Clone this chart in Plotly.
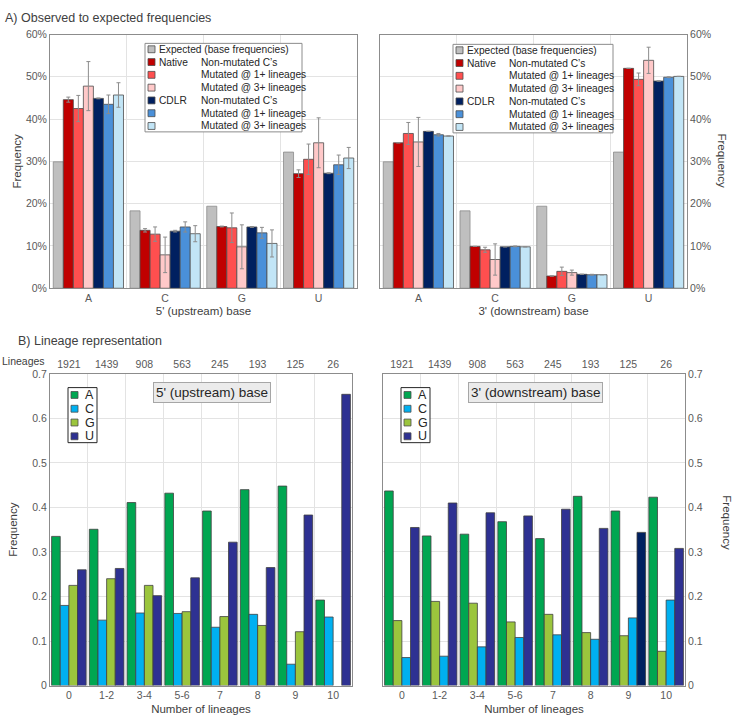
import plotly.graph_objects as go

# ---------------- DATA ----------------
bases = ["A", "C", "G", "U"]
expected = [29.9, 18.3, 19.4, 32.2]

# Panel A, 5' (upstream) base  (percent)
up_native_non = [44.6, 13.7, 14.6, 27.1]
up_native_non_err = [0.6, 0.4, 0.1, 0.9]
up_native_m1 = [42.5, 12.8, 14.3, 30.5]
up_native_m1_err = [3.1, 1.7, 3.5, 3.6]
up_native_m3 = [47.8, 7.9, 9.8, 34.4]
up_native_m3_err = [5.8, 4.2, 5.2, 5.9]
up_cdlr_non = [44.9, 13.5, 14.5, 27.2]
up_cdlr_non_err = [0.1, 0.2, 0.1, 0.1]
up_cdlr_m1 = [43.5, 14.5, 13.1, 29.2]
up_cdlr_m1_err = [2.2, 1.2, 1.3, 2.3]
up_cdlr_m3 = [45.7, 12.9, 10.6, 30.8]
up_cdlr_m3_err = [2.9, 1.9, 3.2, 2.5]

# Panel A, 3' (downstream) base  (percent)
dn_native_non = [34.4, 9.9, 2.9, 52.0]
dn_native_non_err = [None, None, None, None]
dn_native_m1 = [36.6, 9.1, 4.0, 49.4]
dn_native_m1_err = [2.6, 0.6, 1.0, 1.5]
dn_native_m3 = [34.6, 6.8, 3.7, 53.9]
dn_native_m3_err = [5.8, 3.7, 0.6, 3.1]
dn_cdlr_non = [37.1, 9.8, 3.3, 49.0]
dn_cdlr_non_err = [None, None, None, None]
dn_cdlr_m1 = [36.3, 9.9, 3.2, 49.9]
dn_cdlr_m1_err = [0.3, 0.1, 0.1, 0.1]
dn_cdlr_m3 = [36.0, 9.8, 3.2, 50.1]
dn_cdlr_m3_err = [None, None, None, None]

series_labels = [
    ("Expected (base frequencies)", ""),
    ("Native", "Non-mutated C\u2019s"),
    ("", "Mutated @ 1+ lineages"),
    ("", "Mutated @ 3+ lineages"),
    ("CDLR", "Non-mutated C\u2019s"),
    ("", "Mutated @ 1+ lineages"),
    ("", "Mutated @ 3+ lineages"),
]

# Panel B
groups = ["0", "1-2", "3-4", "5-6", "7", "8", "9", "10"]
lineage_counts = ["1921", "1439", "908", "563", "245", "193", "125", "26"]
b_bases = ["A", "C", "G", "U"]
up_A = [0.335, 0.351, 0.411, 0.432, 0.392, 0.440, 0.448, 0.192]
up_C = [0.180, 0.147, 0.163, 0.162, 0.131, 0.160, 0.048, 0.154]
up_G = [0.225, 0.240, 0.225, 0.166, 0.155, 0.135, 0.121, None]
up_U = [0.260, 0.263, 0.202, 0.242, 0.322, 0.265, 0.383, 0.654]
dn_A = [0.437, 0.336, 0.340, 0.368, 0.330, 0.425, 0.392, 0.423]
dn_C = [0.063, 0.066, 0.087, 0.108, 0.114, 0.104, 0.152, 0.192]
dn_G = [0.146, 0.189, 0.185, 0.143, 0.160, 0.119, 0.112, 0.077]
dn_U = [0.355, 0.410, 0.388, 0.381, 0.396, 0.353, 0.344, 0.308]

# ---------------- STYLE ----------------
W, H = 735, 727
FONT = "Liberation Sans, Arial, sans-serif"
TICK_COLOR = "#595959"
TEXT_COLOR = "#404040"
A_COLORS = ["#BFBFBF", "#C00000", "#FF4F4F", "#FFC9C9", "#002060", "#4A90D9", "#C2E5F6"]
B_COLORS = {"A": "#00A651", "C": "#00B0F0", "G": "#9BC53D", "U": "#2E3192"}
U_HIGHLIGHT = "#002060"


def px_x(p):
    return p / W


def px_y(p):
    return 1 - p / H


fig = go.Figure()

# ---------------- PANEL A ----------------
up_vals = [expected, up_native_non, up_native_m1, up_native_m3, up_cdlr_non, up_cdlr_m1, up_cdlr_m3]
up_errs = [None, up_native_non_err, up_native_m1_err, up_native_m3_err, up_cdlr_non_err, up_cdlr_m1_err, up_cdlr_m3_err]
dn_vals = [expected, dn_native_non, dn_native_m1, dn_native_m3, dn_cdlr_non, dn_cdlr_m1, dn_cdlr_m3]
dn_errs = [None, dn_native_non_err, dn_native_m1_err, dn_native_m3_err, dn_cdlr_non_err, dn_cdlr_m1_err, dn_cdlr_m3_err]

for (vals, errs, xa, ya) in [(up_vals, up_errs, "x", "y"), (dn_vals, dn_errs, "x2", "y2")]:
    for i, (v, e) in enumerate(zip(vals, errs)):
        name = (series_labels[i][0] + " " + series_labels[i][1]).strip()
        err = None
        if e is not None:
            err = dict(type="data", array=e, color="#8C8C8C", thickness=1, width=2)
        fig.add_trace(go.Bar(
            x=bases, y=v, name=name, xaxis=xa, yaxis=ya, showlegend=False,
            marker=dict(color=A_COLORS[i],
                        line=dict(color="#8C8C8C" if i == 0 else "#4D4D4D", width=0.8)),
            error_y=err,
        ))

# ---------------- PANEL B ----------------
up_series = {"A": up_A, "C": up_C, "G": up_G, "U": up_U}
dn_series = {"A": dn_A, "C": dn_C, "G": dn_G, "U": dn_U}

for b in ["A", "C", "G", "U"]:
    fig.add_trace(go.Bar(
        x=groups, y=up_series[b], name=b, xaxis="x3", yaxis="y3", showlegend=False,
        marker=dict(color=B_COLORS[b], line=dict(color="#404040", width=0.8)),
    ))

for b in ["A", "G", "C", "U"]:
    if b == "U":
        colors = [U_HIGHLIGHT if g == "9" else B_COLORS["U"] for g in groups]
    else:
        colors = B_COLORS[b]
    fig.add_trace(go.Bar(
        x=groups, y=dn_series[b], name=b, xaxis="x4", yaxis="y4", showlegend=False,
        marker=dict(color=colors, line=dict(color="#404040", width=0.8)),
    ))

# invisible traces to carry the top "Lineages" category axes
for xa, ya in [("x5", "y3"), ("x6", "y4")]:
    fig.add_trace(go.Scatter(x=groups, y=[None] * len(groups), xaxis=xa, yaxis=ya,
                             mode="markers", showlegend=False, hoverinfo="skip"))

# ---------------- AXES ----------------
tickfont = dict(family=FONT, size=10.5, color=TICK_COLOR)
titlefont = dict(family=FONT, size=11.5, color=TEXT_COLOR)
frame = dict(showline=True, linecolor="#8C8C8C", linewidth=1, mirror=True,
             gridcolor="#E3E3E3", ticks="", zeroline=False, tickfont=tickfont)

dom_A_y = [px_y(287), px_y(29)]
dom_B_y = [px_y(691), px_y(374)]

top_axis = dict(side="top", type="category", categoryarray=groups, categoryorder="array",
                range=[-0.5, 7.5], tickvals=groups, ticktext=lineage_counts, ticklabelstandoff=3,
                showgrid=False, showline=False, ticks="", zeroline=False, tickfont=tickfont)

fig.update_layout(
    xaxis=dict(domain=[px_x(50), px_x(357)], anchor="y", type="category", tickson="boundaries",
               showgrid=True, title=dict(text="5' (upstream) base", font=titlefont, standoff=4), **frame),
    yaxis=dict(domain=dom_A_y, anchor="x", range=[0, 60], dtick=10, ticksuffix="%", showgrid=True,
               title=dict(text="Frequency", font=titlefont, standoff=1), **frame),
    xaxis2=dict(domain=[px_x(380), px_x(687)], anchor="y2", type="category", tickson="boundaries",
                showgrid=True, title=dict(text="3' (downstream) base", font=titlefont, standoff=4), **frame),
    yaxis2=dict(domain=dom_A_y, anchor="x2", side="right", range=[0, 60], dtick=10, ticksuffix="%",
                showgrid=True, **frame),
    xaxis3=dict(domain=[px_x(50), px_x(352)], anchor="y3", type="category", tickson="boundaries",
                categoryarray=groups, categoryorder="array", range=[-0.5, 7.5],
                showgrid=True, title=dict(text="Number of lineages", font=titlefont, standoff=4), **frame),
    yaxis3=dict(domain=dom_B_y, anchor="x3", range=[0, 0.7], dtick=0.1, showgrid=True,
                title=dict(text="Frequency", font=titlefont, standoff=12), **frame),
    xaxis4=dict(domain=[px_x(383), px_x(685)], anchor="y4", type="category", tickson="boundaries",
                categoryarray=groups, categoryorder="array", range=[-0.5, 7.5],
                showgrid=True, title=dict(text="Number of lineages", font=titlefont, standoff=4), **frame),
    yaxis4=dict(domain=dom_B_y, anchor="x4", side="right", range=[0, 0.7], dtick=0.1, showgrid=True, **frame),
    xaxis5=dict(overlaying="x3", anchor="y3", **top_axis),
    xaxis6=dict(overlaying="x4", anchor="y4", **top_axis),
)

# ---------------- KEYS (compact legends) ----------------
shapes = []
annotations = []


def add_key(bx, by, bw, bh, row, first, sw, labels, colors, font_size, col1_x, col2_x, border):
    shapes.append(dict(type="rect", xref="paper", yref="paper",
                       x0=px_x(bx), x1=px_x(bx + bw), y0=px_y(by + bh), y1=px_y(by),
                       fillcolor="white", line=dict(color=border, width=1), layer="above"))
    for i, ((c1, c2), col) in enumerate(zip(labels, colors)):
        cy = by + first + i * row
        shapes.append(dict(type="rect", xref="paper", yref="paper",
                           x0=px_x(bx + 3), x1=px_x(bx + 3 + sw), y0=px_y(cy + sw / 2), y1=px_y(cy - sw / 2),
                           fillcolor=col, line=dict(color="#4D4D4D", width=0.8), layer="above"))
        for txt, ox in [(c1, col1_x), (c2, col2_x)]:
            if txt:
                annotations.append(dict(text=txt, xref="paper", yref="paper", x=px_x(bx + ox), y=px_y(cy),
                                        xanchor="left", yanchor="middle", showarrow=False,
                                        font=dict(family=FONT, size=font_size, color="#262626")))


# Panel A keys
add_key(145, 38, 157, 90, 13, 6, 7, series_labels, A_COLORS, 10.2, 12, 54, "#8C8C8C")
add_key(453, 39, 160, 90, 13, 6, 7, series_labels, A_COLORS, 10.2, 12, 54, "#8C8C8C")
# Panel B keys
b_labels = [(b, "") for b in b_bases]
b_cols = [B_COLORS[b] for b in b_bases]
add_key(68, 388, 29, 56, 14, 7.5, 7, b_labels, b_cols, 12.5, 15, 0, "#262626")
add_key(401, 388, 29, 56, 14, 7.5, 7, b_labels, b_cols, 12.5, 15, 0, "#262626")

# ---------------- TEXT ----------------
annotations += [
    dict(text="A) Observed to expected frequencies", xref="paper", yref="paper", x=px_x(3), y=px_y(12),
         xanchor="left", yanchor="middle", showarrow=False, font=dict(family=FONT, size=12.5, color=TEXT_COLOR)),
    dict(text="B) Lineage representation", xref="paper", yref="paper", x=px_x(16), y=px_y(341),
         xanchor="left", yanchor="middle", showarrow=False, font=dict(family=FONT, size=12.5, color=TEXT_COLOR)),
    dict(text="Lineages", xref="paper", yref="paper", x=px_x(0), y=px_y(361),
         xanchor="left", yanchor="middle", showarrow=False, font=dict(family=FONT, size=10.5, color=TEXT_COLOR)),
    dict(text="Frequency", xref="paper", yref="paper", x=px_x(722), y=px_y(157), textangle=90,
         xanchor="center", yanchor="middle", showarrow=False, font=titlefont),
    dict(text="Frequency", xref="paper", yref="paper", x=px_x(727), y=px_y(525), textangle=90,
         xanchor="center", yanchor="middle", showarrow=False, font=titlefont),
    dict(text="5' (upstream) base", xref="paper", yref="paper", x=px_x(212), y=px_y(393),
         xanchor="center", yanchor="middle", showarrow=False, bgcolor="#EBEBEB", bordercolor="#A6A6A6",
         borderwidth=1, borderpad=2, font=dict(family=FONT, size=13.5, color="#262626")),
    dict(text="3' (downstream) base", xref="paper", yref="paper", x=px_x(535), y=px_y(393),
         xanchor="center", yanchor="middle", showarrow=False, bgcolor="#EBEBEB", bordercolor="#A6A6A6",
         borderwidth=1, borderpad=2, font=dict(family=FONT, size=13.5, color="#262626")),
]

fig.update_layout(
    width=W, height=H, margin=dict(l=0, r=0, t=0, b=0),
    paper_bgcolor="white", plot_bgcolor="white",
    barmode="group", bargap=0.085, bargroupgap=0,
    font=dict(family=FONT, color=TEXT_COLOR),
    showlegend=False,
    shapes=shapes, annotations=annotations,
)

fig.write_html("out.html", config={"displayModeBar": False},
               post_script="document.body.style.margin='0';document.body.style.overflow='hidden';")
